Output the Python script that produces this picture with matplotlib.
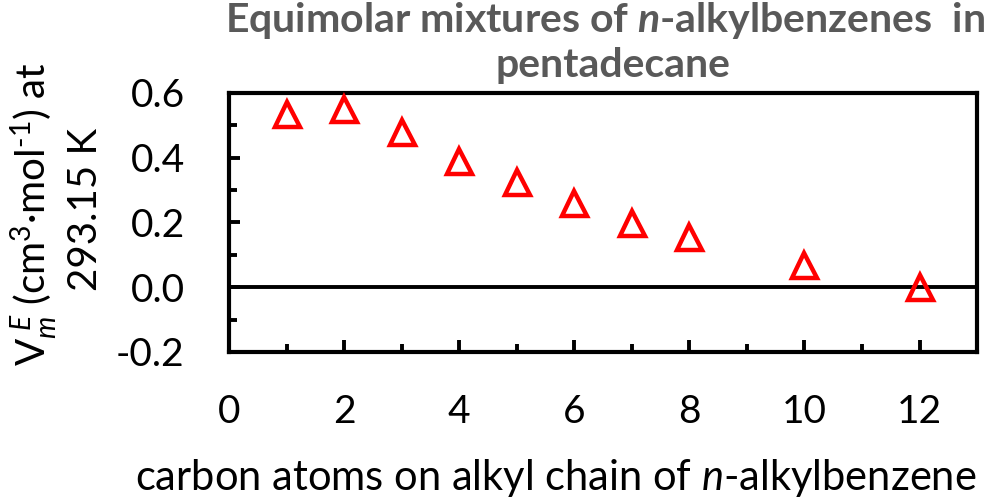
import matplotlib
matplotlib.use("Agg")
import matplotlib.pyplot as plt
from matplotlib.ticker import MultipleLocator

plt.rcParams["font.family"] = ["Lato", "DejaVu Sans"]
plt.rcParams["mathtext.fontset"] = "custom"
plt.rcParams["mathtext.rm"] = "Lato"
plt.rcParams["mathtext.it"] = "Lato:italic"
plt.rcParams["mathtext.bfit"] = "Lato:italic:bold"

carbon_atoms = [1, 2, 3, 4, 5, 6, 7, 8, 10, 12]
excess_volume = [0.534, 0.551, 0.480, 0.390, 0.326, 0.261, 0.198, 0.156, 0.068, 0.000]

x_ticks = [0, 2, 4, 6, 8, 10, 12]
y_ticks = [-0.2, 0.0, 0.2, 0.4, 0.6]

fig = plt.figure(figsize=(9.96, 5.04), dpi=100)
ax = fig.add_axes([0.230, 0.3016, 0.751, 0.5139])

ax.plot(carbon_atoms, excess_volume, linestyle="none", marker="^",
        markersize=18, markerfacecolor="none", markeredgecolor="#ff0000",
        markeredgewidth=3.2, clip_on=False, zorder=3)
ax.axhline(0, color="black", linewidth=2.8, zorder=2)

ax.set_xlim(0, 13)
ax.set_ylim(-0.2, 0.6)
ax.set_xticks(x_ticks)
ax.set_xticklabels([str(v) for v in x_ticks])
ax.set_yticks(y_ticks)
ax.set_yticklabels([f"{v:.1f}" for v in y_ticks])
ax.xaxis.set_minor_locator(MultipleLocator(1))
ax.yaxis.set_minor_locator(MultipleLocator(0.1))

for side in ax.spines.values():
    side.set_linewidth(3.0)
    side.set_color("black")

ax.tick_params(which="major", direction="in", length=9, width=2.8,
               labelsize=28, pad=30, top=False, right=False)
ax.tick_params(which="minor", direction="in", length=6, width=2.8,
               top=False, right=False)
ax.tick_params(axis="y", which="major", length=8, pad=32)

fig.text(0.607, 0.960, "Equimolar mixtures of $\\mathbfit{n}$-alkylbenzenes  in",
         ha="center", va="center", fontsize=29.5, fontweight="bold", color="#595959")
fig.text(0.615, 0.871, "pentadecane",
         ha="center", va="center", fontsize=29.5, fontweight="bold", color="#595959")

fig.text(0.034, 0.575, "V$_{m}^{\\ E}$ (cm$^{3}$·mol$^{\\text{-1}}$) at",
         rotation=90, ha="center", va="center", fontsize=29)
fig.text(0.086, 0.585, "293.15 K",
         rotation=90, ha="center", va="center", fontsize=29)

fig.text(0.558, 0.052, "carbon atoms on alkyl chain of $\\mathit{n}$-alkylbenzene",
         ha="center", va="center", fontsize=30)

fig.savefig("out.png", dpi=100)
